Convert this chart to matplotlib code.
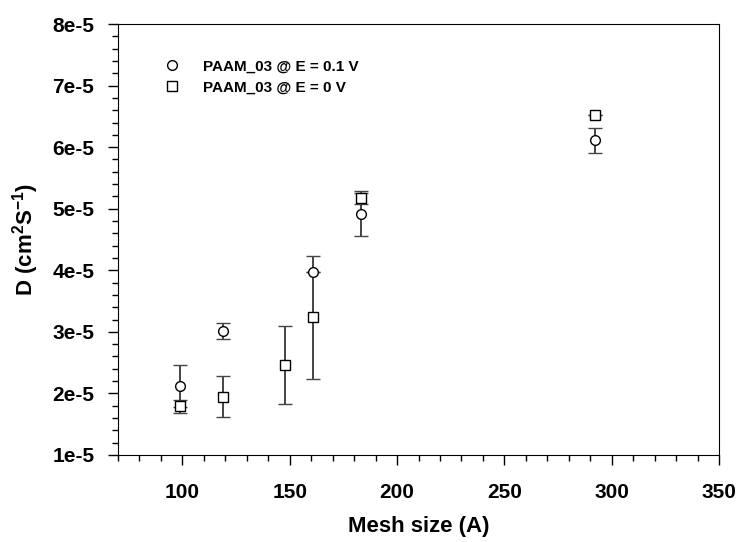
import matplotlib.pyplot as plt
from matplotlib.ticker import MultipleLocator
from matplotlib.lines import Line2D

plt.rcParams['font.family'] = ['Liberation Sans', 'DejaVu Sans']
plt.rcParams['font.weight'] = 'bold'
plt.rcParams['mathtext.fontset'] = 'custom'
plt.rcParams['mathtext.rm'] = 'Liberation Sans:bold'
plt.rcParams['mathtext.bf'] = 'Liberation Sans:bold'
plt.rcParams['mathtext.default'] = 'bf'

# PAAM_03 @ E = 0.1 V
mesh_01 = [99, 119, 161, 183, 292]
d_01 = [2.12e-5, 3.01e-5, 3.97e-5, 4.92e-5, 6.11e-5]
err_01 = [0.34e-5, 0.13e-5, 0.0, 0.37e-5, 0.20e-5]

# PAAM_03 @ E = 0 V
mesh_0 = [99, 119, 148, 161, 183, 292]
d_0 = [1.79e-5, 1.95e-5, 2.46e-5, 3.24e-5, 5.17e-5, 6.53e-5]
err_0 = [0.11e-5, 0.34e-5, 0.63e-5, 1.00e-5, 0.09e-5, 0.0]

labels = ['PAAM_03 @ E = 0.1 V', 'PAAM_03 @ E = 0 V']
yticks = [1e-5, 2e-5, 3e-5, 4e-5, 5e-5, 6e-5, 7e-5, 8e-5]
ytick_labels = ['1e-5', '2e-5', '3e-5', '4e-5', '5e-5', '6e-5', '7e-5', '8e-5']

fig = plt.figure(figsize=(7.38, 5.42), dpi=100)
ax = fig.add_axes([118 / 738, 1 - 455 / 542, (719 - 118) / 738, (455 - 24) / 542])

ax.errorbar(mesh_01, d_01, yerr=err_01, fmt='o', mfc='white', mec='black',
            ms=7, mew=1.0, ecolor='#444444', elinewidth=1.4, capsize=5,
            capthick=1.4, zorder=3)
ax.errorbar(mesh_0, d_0, yerr=err_0, fmt='s', mfc='white', mec='black',
            ms=7, mew=1.0, ecolor='#444444', elinewidth=1.4, capsize=5,
            capthick=1.4, zorder=3)

ax.set_xlim(70, 350)
ax.set_ylim(1e-5, 8e-5)
ax.set_xticks([100, 150, 200, 250, 300, 350])
ax.set_yticks(yticks)
ax.set_yticklabels(ytick_labels)
ax.xaxis.set_minor_locator(MultipleLocator(10))
ax.yaxis.set_minor_locator(MultipleLocator(0.2e-5))
ax.tick_params(which='major', direction='out', length=7, width=1.0,
               labelsize=15)
ax.tick_params(axis='x', which='major', pad=13)
ax.tick_params(axis='y', which='major', pad=10)
ax.tick_params(which='minor', direction='out', length=4, width=1.0)
for lbl in ax.get_xticklabels() + ax.get_yticklabels():
    lbl.set_fontweight('bold')

ax.set_xlabel('Mesh size (A)', fontsize=16, fontweight='bold', labelpad=10)
ax.set_ylabel('D (cm$^2$S$^{-1}$)', fontsize=16, fontweight='bold', labelpad=8)

handles = [
    Line2D([], [], ls='none', marker='o', mfc='white', mec='black', ms=7, mew=1.0),
    Line2D([], [], ls='none', marker='s', mfc='white', mec='black', ms=7, mew=1.0),
]
leg = ax.legend(handles, labels, loc='upper left', bbox_to_anchor=(0.065, 0.935),
                frameon=False, fontsize=11, handlelength=1.0,
                handletextpad=1.5, labelspacing=0.45, borderpad=0)
for t in leg.get_texts():
    t.set_fontweight('bold')

fig.savefig('out.png', dpi=100)
